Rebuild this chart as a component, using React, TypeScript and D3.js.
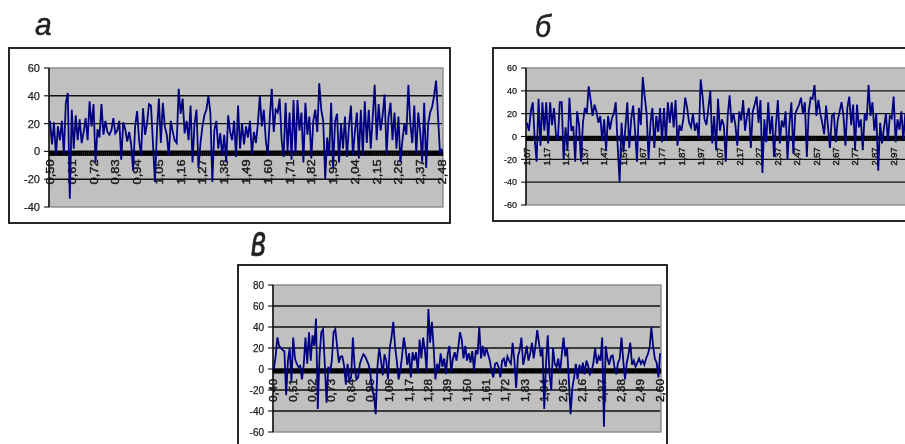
import React from "react";
import * as d3 from "d3";

const valuesA = [
  22,5,21,-3,18,8,22,-2,35,42,-34,30,2,26,8,23,6,14,24,8,
  36,18,34,-8,16,10,34,12,22,14,12,15,24,13,15,22,-6,21,16,7,
  14,5,-14,18,29,8,-3,31,12,20,34,33,6,-22,14,38,6,35,18,12,
  -3,22,14,8,6,45,27,38,13,22,8,33,-8,20,30,-12,6,18,26,30,
  40,28,-22,15,22,2,13,-3,12,-8,26,14,8,22,-4,33,2,20,5,18,
  10,22,-2,14,6,20,40,18,30,8,-3,24,45,14,30,28,38,8,-4,35,
  0,28,-6,37,-3,37,15,28,-8,35,12,25,-5,22,30,14,49,30,22,-20,
  10,-3,35,-12,22,27,-8,20,2,25,-4,18,33,-3,14,28,-5,30,-3,36,
  6,30,2,24,48,8,34,15,26,41,-2,25,35,8,28,2,25,-8,8,20,
  12,48,20,6,33,-2,28,14,-8,35,-12,20,28,32,40,51,25,-2,2,
];
const valuesB = [
  12,5,22,30,-2,-22,33,-8,30,5,30,-6,30,10,25,2,-4,30,30,-20,
  8,-12,34,5,9,-22,22,10,-22,12,25,20,44,32,18,28,22,12,18,-4,
  15,-12,18,6,16,20,30,-8,-40,12,-14,8,30,-10,15,27,5,-22,25,10,
  52,35,20,-20,12,25,-10,18,4,25,-5,25,-4,30,12,30,8,32,-8,10,
  5,15,34,25,12,8,20,5,12,-2,50,35,15,10,25,40,-6,18,-12,33,
  5,15,10,-22,18,36,12,20,10,-8,22,14,32,5,18,25,-10,22,28,35,
  12,32,-32,15,-5,30,2,18,-18,10,32,-6,14,8,22,-20,12,30,-15,20,
  24,28,34,20,30,-18,22,34,33,45,18,32,20,12,2,27,8,-10,18,20,
  -5,14,22,30,18,-8,25,35,10,28,-12,28,8,15,-12,20,14,45,18,30,
  5,20,-30,12,-6,8,20,-4,18,16,35,-5,15,6,22,-3,20,10,16,8,
];
const valuesC = [
  0,12,30,22,20,18,17,-25,8,20,-12,30,10,5,2,3,-10,4,30,5,
  35,8,32,22,48,-38,12,35,38,5,-32,2,-3,8,35,38,22,6,12,12,
  3,-15,5,-12,-8,30,2,-10,-8,5,10,14,12,8,4,-5,-20,-25,-43,2,
  20,8,-6,14,8,-10,20,30,45,22,8,-10,-2,12,30,20,4,15,-8,16,
  8,16,-4,28,10,30,18,-2,57,25,45,20,-10,5,-2,15,2,10,-5,14,
  22,-3,10,16,8,20,35,28,10,22,8,15,6,17,-2,18,14,40,10,22,
  12,20,14,8,-2,-8,5,6,2,-8,8,10,2,12,8,5,25,8,-18,12,
  18,30,4,12,22,8,15,25,10,22,37,25,12,20,-38,5,32,-5,-20,20,
  5,2,10,-3,14,30,12,20,-10,-43,-18,-8,5,-10,4,-3,6,-5,8,3,
  -5,-2,6,20,5,12,8,30,-55,22,10,4,12,13,2,-5,6,10,30,8,
  -10,6,14,25,4,8,2,6,10,5,8,4,10,14,20,40,22,10,6,-8,15,
];

const labelsA = ["0,50","0,61","0,72","0,83","0,94","1,05","1,16","1,27","1,38","1,49","1,60","1,71","1,82","1,93","2,04","2,15","2,26","2,37","2,48"];
const labelsB = ["1,07","1,17","1,27","1,37","1,47","1,57","1,67","1,77","1,87","1,97","2,07","2,17","2,27","2,37","2,47","2,57","2,67","2,77","2,87","2,97"];
const labelsC = ["0,40","0,51","0,62","0,73","0,84","0,95","1,06","1,17","1,28","1,39","1,50","1,61","1,72","1,83","1,94","2,05","2,16","2,27","2,38","2,49","2,60"];

const ticksA = [-40,-20,0,20,40,60];
const ticksB = [-60,-40,-20,0,20,40,60];
const ticksC = [-60,-40,-20,0,20,40,60,80];

type PanelProps = {
  letter: string; letterX: number; letterY: number; letterSX: number; letterSY: number;
  frame: [number, number, number, number];
  plot: [number, number, number, number];
  values: number[]; labels: string[]; ticks: number[]; every: number;
  tickFont: number; catFont: number; catLen: number; catGap: number;
};

function Panel(p: PanelProps) {
  const [x0, y0, x1, y1] = p.plot;
  const [fx0, fy0, fx1, fy1] = p.frame;
  const y = d3.scaleLinear().domain(d3.extent(p.ticks) as [number, number]).range([y1, y0]);
  const x = d3.scalePoint<number>().domain(p.values.map((_, i) => i)).range([x0, x1]).padding(0.5);
  const line = d3.line<number>().x((_, i) => x(i)!).y((d) => y(d));
  const zero = y(0);
  const axisColor = "#111";
  return (
    <g>
      <rect x={fx0} y={fy0} width={fx1 - fx0} height={fy1 - fy0} fill="#fff" stroke="#111" strokeWidth={1.8} />
      <text transform={`translate(${p.letterX},${p.letterY}) scale(${p.letterSX},${p.letterSY})`}
        fontFamily="'Liberation Sans', sans-serif" fontStyle="italic" fontSize={30} fill="#222" stroke="#222" strokeWidth={0.5}>{p.letter}</text>
      <rect x={x0} y={y0} width={x1 - x0} height={y1 - y0} fill="#c0c0c0" stroke="#8a8a8a" strokeWidth={1.4} />
      {p.ticks.filter((t) => t !== 0 && t !== p.ticks[0] && t !== p.ticks[p.ticks.length - 1]).map((t) => (
        <line key={t} x1={x0} x2={x1 - 1} y1={y(t)} y2={y(t)} stroke="#111" strokeWidth={1.4} />
      ))}
      <line x1={x0} x2={x0} y1={y0} y2={y1} stroke={axisColor} strokeWidth={1.5} />
      {p.ticks.map((t) => (
        <g key={t}>
          <line x1={x0 - 5} x2={x0} y1={y(t)} y2={y(t)} stroke={axisColor} strokeWidth={1.1} />
          <text x={x0 - 9} y={y(t) + p.tickFont * 0.36} textAnchor="end" fontFamily="'Liberation Sans', sans-serif" fontSize={p.tickFont} fill="#222" stroke="#222" strokeWidth={0.25}>{t}</text>
        </g>
      ))}
      <line x1={x0} x2={x1} y1={zero} y2={zero} stroke="#000" strokeWidth={1.6} />
      {p.values.map((_, i) => (
        <line key={i} x1={x(i)!} x2={x(i)!} y1={zero} y2={zero + 4.5} stroke="#000" strokeWidth={2.2} />
      ))}
      {p.labels.map((s, i) => {
        const cx = x(i * p.every)!;
        const top = zero + p.catGap;
        return (
          <text key={s + i} transform={`translate(${cx + p.catFont * 0.36},${top + p.catLen}) rotate(-90)`}
            textLength={p.catLen} lengthAdjust="spacingAndGlyphs"
            fontFamily="'Liberation Sans', sans-serif" fontSize={p.catFont} fill="#1a1a1a" stroke="#1a1a1a" strokeWidth={0.45}>{s}</text>
        );
      })}
      <path d={line(p.values) ?? ""} fill="none" stroke="#000080" strokeWidth={1.8} strokeLinejoin="miter" />
    </g>
  );
}

export default function App() {
  return (
    <svg width={905} height={444} viewBox="0 0 905 444"
      style={{ position: "absolute", left: 0, top: 0, background: "#fff", filter: "blur(0.5px)" }}>
      <Panel letter="а" letterX={35} letterY={35} letterSX={1} letterSY={1.05} frame={[9, 48, 450, 223]} plot={[49, 68, 443, 207]}
        values={valuesA} labels={labelsA} ticks={ticksA} every={11} tickFont={11} catFont={11} catLen={25} catGap={8} />
      <Panel letter="б" letterX={535} letterY={37} letterSX={0.95} letterSY={1.05} frame={[493, 48, 925, 221]} plot={[526, 68, 912, 205]}
        values={valuesB} labels={labelsB} ticks={ticksB} every={10} tickFont={9} catFont={9} catLen={18} catGap={11} />
      <Panel letter="в" letterX={251} letterY={256} letterSX={0.95} letterSY={1.45} frame={[238, 265, 667, 470]} plot={[273, 285, 661, 432]}
        values={valuesC} labels={labelsC} ticks={ticksC} every={11} tickFont={10} catFont={10} catLen={23} catGap={10} />
    </svg>
  );
}
